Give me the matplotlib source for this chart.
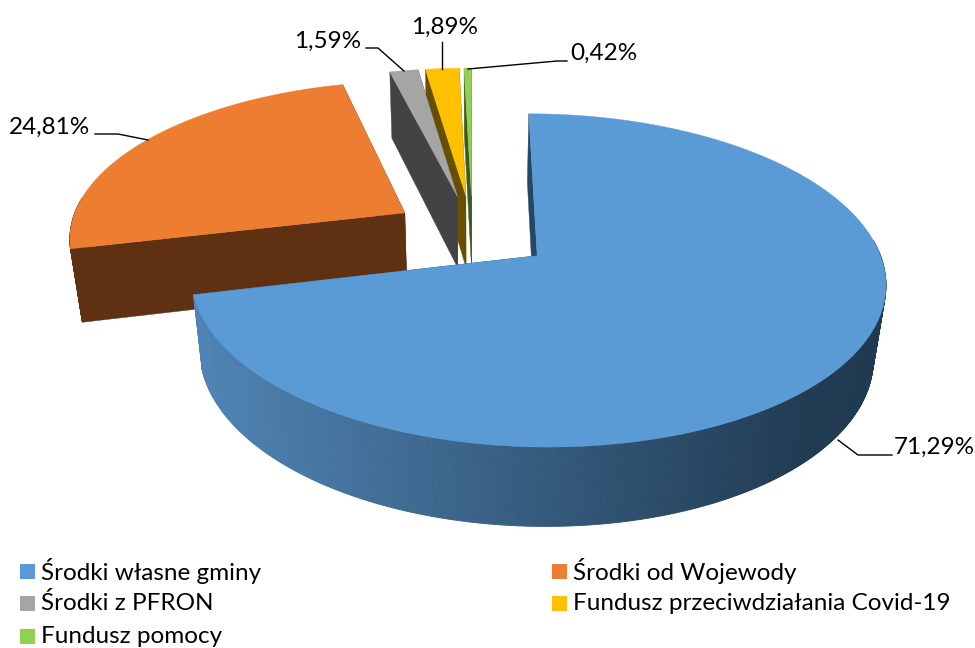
import numpy as np
import matplotlib
matplotlib.use('Agg')
import matplotlib.pyplot as plt
from matplotlib.colors import to_rgb

categories = ['Środki własne gminy', 'Środki od Wojewody', 'Środki z PFRON',
	'Fundusz przeciwdziałania Covid-19', 'Fundusz pomocy']
shares = [71.29, 24.81, 1.59, 1.89, 0.42]
top_colors = ['#5b9bd5', '#ed7d31', '#a5a5a5', '#ffc000', '#92d050']
wall_colors = ['#264763', '#5f3112', '#434343', '#665000', '#3d5a24']

# projection of the tilted disc to pixels
X0, Y0 = 472.5, 232
A, B, C = 336, 156, 75
K, M = 0.145, 0.03
EXPLODE = 0.24
START = 0


def project(u, v, z):
	s = 1 / (1 + K * v + M * z)
	return X0 + A * u * s, Y0 - (B * v - C * z) * s


def blend(c1, c2, t):
	c1, c2 = np.array(to_rgb(c1)), np.array(to_rgb(c2))
	return tuple(c1 + (c2 - c1) * t)


fig = plt.figure(figsize=(9.75, 6.48), dpi=100)
ax = fig.add_axes([0, 0, 1, 1])
ax.set_xlim(0, 975)
ax.set_ylim(648, 0)
ax.axis('off')
plt.rcParams['font.family'] = 'Lato'

edges = START + np.cumsum([0] + shares) * 3.6
slices = []
for i in range(len(shares)):
	a0, a1 = edges[i], edges[i + 1]
	mid = np.radians((a0 + a1) / 2)
	slices.append((i, a0, a1, EXPLODE * np.sin(mid), EXPLODE * np.cos(mid)))


def draw_slice(i, a0, a1, du, dv, order):
	t = np.radians(np.linspace(a0, a1, max(int(a1 - a0) * 2, 6)))
	u = du + np.sin(t)
	v = dv + np.cos(t)
	# radial walls
	for end in (0, -1):
		xs, ys = project(np.array([du, u[end], u[end], du]), np.array([dv, v[end], v[end], dv]), np.array([0, 0, 1, 1]))
		ax.fill(xs, ys, color=wall_colors[i], lw=0.3, zorder=order)
	# outer rim, only the part facing us; blue one goes dark to the right
	for j in range(len(t) - 1):
		if np.cos((t[j] + t[j + 1]) / 2) > 0.1:
			continue
		xs, ys = project(u[[j, j + 1, j + 1, j]], v[[j, j + 1, j + 1, j]], np.array([0, 0, 1, 1]))
		c = wall_colors[i]
		if i == 0:
			c = blend('#4f84b4', '#203a51', np.clip((np.mean(xs) - 200) / 610, 0, 1))
		ax.fill(xs, ys, color=c, lw=0.6, zorder=order)
	xs, ys = project(np.r_[du, u], np.r_[dv, v], np.zeros(len(u) + 1))
	ax.fill(xs, ys, color=top_colors[i], lw=0.3, zorder=order)


# back slices first, the big blue one last
for order, idx in enumerate([1, 4, 3, 2, 0]):
	draw_slice(*slices[idx], order)

# data labels
labels = [f'{v:.2f}'.replace('.', ',') + '%' for v in shares]
label_pos = [(934, 447), (50, 127), (328, 41), (445, 27), (604, 53)]
leaders = [((838, 440), (858, 455), (892, 455)), ((148, 140), (118, 134), (95, 134)),
	((404, 71), (378, 48), (366, 48)), ((442, 69), (442, 42)), ((468, 69), (557, 61), (567, 61))]
for text, pos, line in zip(labels, label_pos, leaders):
	ax.text(pos[0], pos[1], text, fontsize=17.5, ha='center', va='center', color='black', zorder=20)
	ax.plot([p[0] for p in line], [p[1] for p in line], color='black', lw=1, zorder=20)

# legend
leg_pos = [(20, 571), (552, 571), (20, 603.5), (552, 603.5), (20, 636.5)]
for name, color, pos in zip(categories, top_colors, leg_pos):
	ax.fill([pos[0], pos[0] + 15, pos[0] + 15, pos[0]], [pos[1] - 7.5, pos[1] - 7.5, pos[1] + 7.5, pos[1] + 7.5], color=color, lw=0)
	ax.text(pos[0] + 21, pos[1], name, fontsize=17.5, va='center', color='black')

fig.savefig('out.png', dpi=100)
